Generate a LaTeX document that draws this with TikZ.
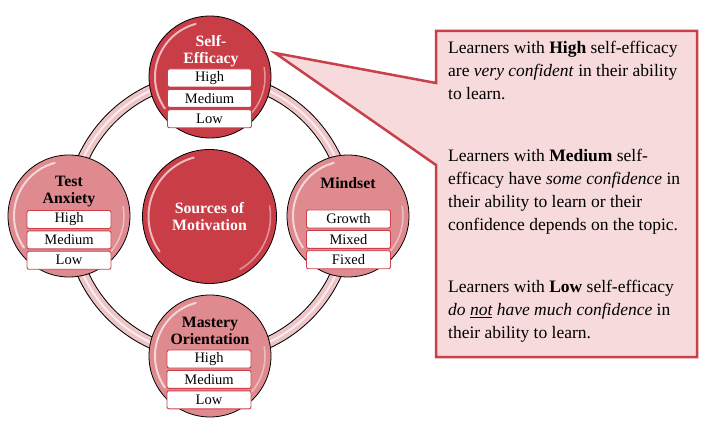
\documentclass[tikz,border=0pt]{standalone}
\usepackage{fontspec}
\setmainfont{Liberation Serif}
\usetikzlibrary{positioning}
\definecolor{motivred}{RGB}{201,61,71}
\definecolor{lightred}{RGB}{222,138,143}
\definecolor{ringpink}{RGB}{238,196,199}
\definecolor{boxred}{RGB}{205,64,74}
\definecolor{callred}{RGB}{200,64,74}
\definecolor{callfill}{RGB}{246,218,220}
\tikzstyle{srccircle}=[circle,draw=black,line width=0.8pt,minimum size=122pt,inner sep=0pt]
\tikzstyle{srctitle}=[font=\fontsize{15.8}{17.5}\selectfont\bfseries,align=center,inner sep=0pt]
\tikzstyle{levelbox}=[draw=boxred,fill=white,rounded corners=2pt,line width=0.9pt,minimum width=84pt,minimum height=18pt,inner sep=0pt,font=\fontsize{14.5}{16}\selectfont]
\tikzstyle{infotext}=[font=\fontsize{17.5}{23}\selectfont,align=left,inner sep=0pt]

\begin{document}
\begin{tikzpicture}[x=1pt,y=-1pt]
    \useasboundingbox (0,0) rectangle (705,425);
    % First we draw the ring behind the circles
    \coordinate (hub) at (209.5,216.5);
    \draw[line width=12pt,black] (hub) circle (139pt);
    \draw[line width=10pt,ringpink] (hub) circle (139pt);
    \draw[line width=2pt,white,opacity=0.7] (hub) circle (139pt);
    % Then the circles
    \foreach \pos/\name/\col in {{(210,77)/self/motivred}, {(69,216)/test/lightred}, {(348,216)/mind/lightred}, {(210,356)/mast/lightred}}
        \node[srccircle,fill=\col] (\name) at \pos {};
    \node[srccircle,fill=motivred,minimum size=134pt] (hubc) at (hub) {};
    % Glossy highlights
    \foreach \name/\r in {self/55,test/55,mind/55,mast/55,hubc/61}
    {
        \draw[white,opacity=0.65,line width=2pt,line cap=round] (\name.center) ++(105:\r pt) arc[start angle=105,end angle=215,radius=\r pt];
        \draw[white,opacity=0.45,line width=1.5pt,line cap=round] (\name.center) ++(-60:\r pt) arc[start angle=-60,end angle=10,radius=\r pt];
    }
    % Titles
    \foreach \pos/\name/\col/\text in {{(211,51)/selfttl/white/{Self-\\Efficacy}}, {(69,191.5)/testttl/black/{Test\\Anxiety}}, {(348,183)/mindttl/black/{Mindset}}, {(210,331)/mastttl/black/{Mastery\\Orientation}}, {(209.5,216.5)/hubttl/white/{Sources of\\Motivation}}}
        \node[srctitle,text=\col] (\name) at \pos {\text};
    % Levels under each title
    \foreach \x/\y/\name/\a/\b/\c in {209.5/78/selfl/High/Medium/Low, 69/219.5/testl/High/Medium/Low, 348.5/219/mindl/Growth/Mixed/Fixed, 209/359/mastl/High/Medium/Low}
    {
        \node[levelbox] (\name1) at (\x,\y) {\a};
        \node[levelbox,below=1.5pt of \name1] (\name2) {\b};
        \node[levelbox,below=1.5pt of \name2] (\name3) {\c};
    }
    % Callout with the meaning of each level
    \coordinate (tip) at (275,53);
    \filldraw[draw=callred,fill=callfill,line width=2.5pt,line join=miter] (436,31) -- (697,31) -- (697,357) -- (436,357) -- (436,165) -- (tip) -- (436,83) -- cycle;
    \node[infotext,anchor=north west] (info) at (448,41) {Learners with \textbf{High} self-efficacy\\ are \textit{very confident} in their ability\\ to learn.\\[39pt] Learners with \textbf{Medium} self-\\ efficacy have \textit{some confidence} in\\ their ability to learn or their\\ confidence depends on the topic.\\[39pt] Learners with \textbf{Low} self-efficacy\\ \textit{do \underline{not} have much confidence} in\\ their ability to learn.};
\end{tikzpicture}
\end{document}
